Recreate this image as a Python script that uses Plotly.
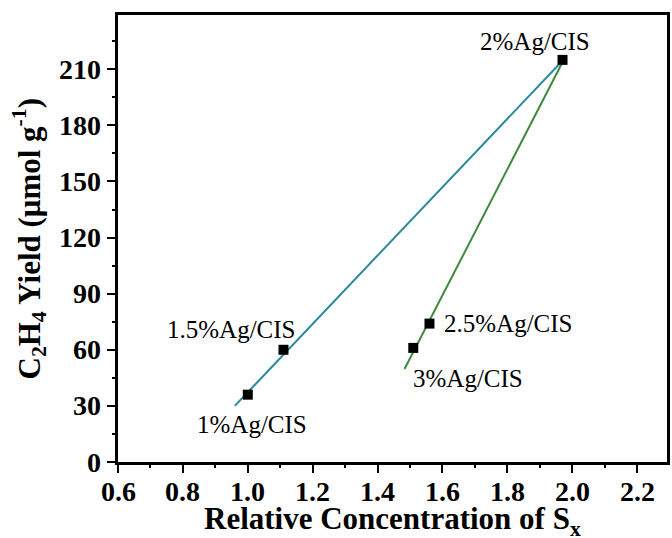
import plotly.graph_objects as go

# Data
samples = ["1%Ag/CIS", "1.5%Ag/CIS", "2%Ag/CIS", "2.5%Ag/CIS", "3%Ag/CIS"]
rel_conc_sx = [1.00, 1.11, 1.97, 1.56, 1.51]
c2h4_yield = [36, 60, 215, 74, 61]

# Fit lines (endpoints)
fit1_x = [0.96, 1.975]
fit1_y = [30, 215.5]
fit2_x = [1.483, 1.975]
fit2_y = [49.7, 215.5]

x_ticks = [0.6, 0.8, 1.0, 1.2, 1.4, 1.6, 1.8, 2.0, 2.2]
y_ticks = [0, 30, 60, 90, 120, 150, 180, 210]
x_range = [0.6, 2.292]
y_range = [0, 239]

FONT = "Liberation Serif"

fig = go.Figure()
fig.add_trace(go.Scatter(x=fit1_x, y=fit1_y, mode="lines",
                         line=dict(color="#2a8a9c", width=2), showlegend=False))
fig.add_trace(go.Scatter(x=fit2_x, y=fit2_y, mode="lines",
                         line=dict(color="#3d8a3d", width=2), showlegend=False))
fig.add_trace(go.Scatter(x=rel_conc_sx, y=c2h4_yield, mode="markers",
                         marker=dict(symbol="square", size=10, color="black"),
                         showlegend=False))

# sample labels (pixel offsets from each point)
label_style = {
    "1%Ag/CIS": dict(xanchor="center", xshift=4, yshift=-30),
    "1.5%Ag/CIS": dict(xanchor="center", xshift=-52, yshift=20),
    "2%Ag/CIS": dict(xanchor="center", xshift=-28, yshift=18),
    "2.5%Ag/CIS": dict(xanchor="left", xshift=13, yshift=0),
    "3%Ag/CIS": dict(xanchor="left", xshift=-2, yshift=-31),
}
for name, xv, yv in zip(samples, rel_conc_sx, c2h4_yield):
    st = label_style[name]
    fig.add_annotation(x=xv, y=yv, text=name, showarrow=False,
                       xanchor=st["xanchor"], yanchor="middle",
                       xshift=st["xshift"], yshift=st["yshift"],
                       font=dict(family=FONT, size=25, color="black"))

# tick labels drawn as text at the axis tick values
tick_font = dict(family=FONT, size=28, color="black")
for v in x_ticks:
    fig.add_annotation(x=v, xref="x", y=0, yref="paper", text=f"<b>{v:.1f}</b>",
                       showarrow=False, xanchor="center", yanchor="middle",
                       yshift=-29, font=tick_font)
for v in y_ticks:
    fig.add_annotation(x=0, xref="paper", y=v, yref="y", text=f"<b>{v}</b>",
                       showarrow=False, xanchor="right", yanchor="middle",
                       xshift=-15, font=tick_font)

# axis titles
fig.add_annotation(x=0.5, xref="paper", y=0, yref="paper",
                   text="<b>Relative Concentration of S<sub>x</sub></b>",
                   showarrow=False, xanchor="center", yanchor="middle", yshift=-59,
                   font=dict(family=FONT, size=31, color="black"))
fig.add_annotation(x=0, xref="paper", y=0.5, yref="paper", textangle=-90,
                   text="<b>C<sub>2</sub>H<sub>4</sub> Yield (μmol g<sup>-1</sup>)</b>",
                   showarrow=False, xanchor="center", yanchor="middle", xshift=-89,
                   font=dict(family=FONT, size=31, color="black"))

axis_common = dict(showline=True, linecolor="black", linewidth=2.5, mirror=True,
                   ticks="outside", tickwidth=2, ticklen=8, tickcolor="black",
                   showticklabels=False, showgrid=False, zeroline=False)

fig.update_layout(
    width=672, height=538,
    margin=dict(l=118, r=2, t=15, b=76),
    plot_bgcolor="white", paper_bgcolor="white",
    xaxis=dict(range=x_range, tickmode="array", tickvals=x_ticks, **axis_common),
    yaxis=dict(range=y_range, tickmode="array", tickvals=y_ticks, **axis_common),
    # overlay axes that only carry the minor ticks
    xaxis2=dict(overlaying="x", matches="x", side="bottom", anchor="y",
                tickmode="linear", tick0=0.7, dtick=0.2, ticks="outside",
                ticklen=5, tickwidth=2, tickcolor="black", showticklabels=False,
                showgrid=False, zeroline=False, showline=False),
    yaxis2=dict(overlaying="y", matches="y", side="left", anchor="x",
                tickmode="linear", tick0=15, dtick=30, ticks="outside",
                ticklen=5, tickwidth=2, tickcolor="black", showticklabels=False,
                showgrid=False, zeroline=False, showline=False),
)
fig.add_trace(go.Scatter(x=[x_range[0]], y=[y_range[0]], xaxis="x2", yaxis="y2",
                         mode="markers", marker=dict(opacity=0), showlegend=False,
                         hoverinfo="skip"))

fig.write_html("out.html")
